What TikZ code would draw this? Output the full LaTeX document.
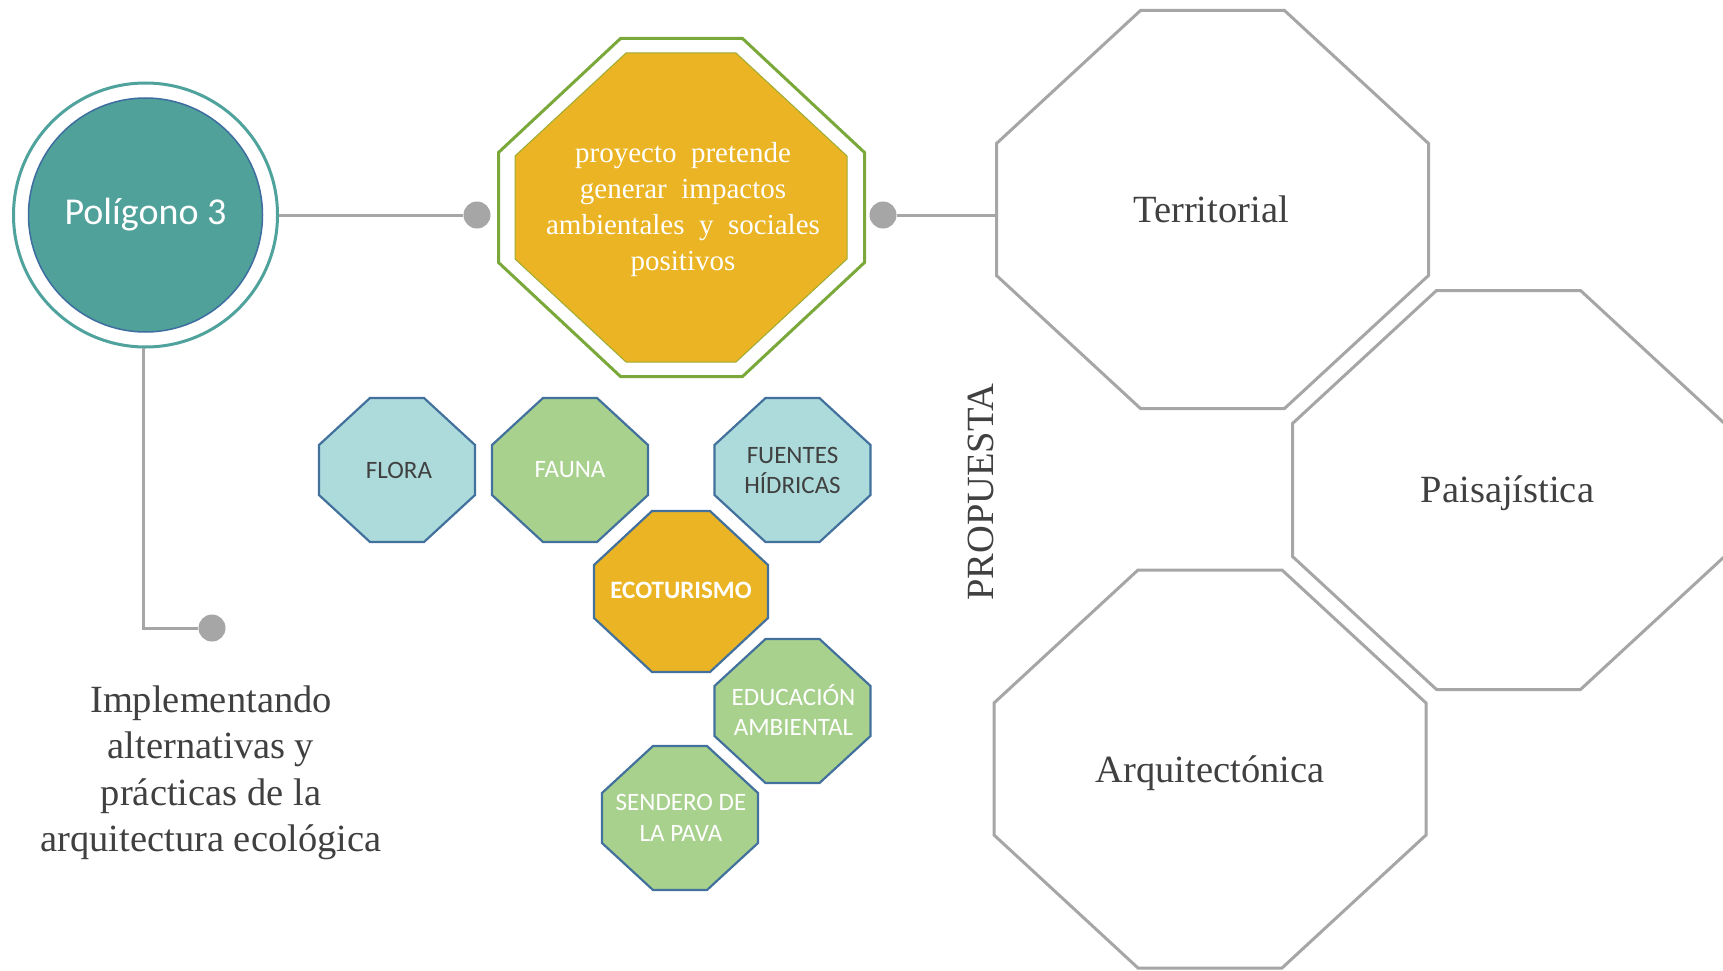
\documentclass[tikz,border=0pt]{standalone}
\usepackage{fontspec}
\setmainfont{Liberation Serif}
\newfontfamily\calfont{Carlito}
\definecolor{lgray}{HTML}{A6A6A6}
\definecolor{dgray}{HTML}{404040}
\definecolor{tealfill}{HTML}{50A19A}
\definecolor{tealring}{HTML}{4FA39C}
\definecolor{innerblue}{HTML}{3E6DA0}
\definecolor{gold}{HTML}{EBB424}
\definecolor{leaf}{HTML}{7AA83A}
\definecolor{octblue}{HTML}{41719C}
\definecolor{lblue}{HTML}{ADDBDB}
\definecolor{lgreen}{HTML}{A9D18E}
% cx cy w h ix iy style
\newcommand{\octa}[7]{%
  \path[#7] ({#1-#3/2+#5},{#2-#4/2}) -- ({#1+#3/2-#5},{#2-#4/2})
    -- ({#1+#3/2},{#2-#4/2+#6}) -- ({#1+#3/2},{#2+#4/2-#6})
    -- ({#1+#3/2-#5},{#2+#4/2}) -- ({#1-#3/2+#5},{#2+#4/2})
    -- ({#1-#3/2},{#2+#4/2-#6}) -- ({#1-#3/2},{#2-#4/2+#6}) -- cycle;}
\begin{document}
\begin{tikzpicture}[x=1pt,y=-1pt,
  gline/.style={draw=lgray, line width=3pt},
  dot/.style={circle, fill=lgray, minimum size=27pt, inner sep=0pt},
  smoct/.style={draw=octblue, line width=2.2pt, line join=miter},
  bigoct/.style={draw=lgray, line width=3pt, fill=white, line join=miter},
  smtxt/.style={font=\calfont\fontsize{25}{30.5}\selectfont, align=center, inner sep=0pt},
  bigtxt/.style={font=\fontsize{38.5}{46}\selectfont, text=dgray, inner sep=0pt},
  box/.style={draw=none, inner sep=0pt, rectangle}
]
\fill[white] (0,0) rectangle (1723,971);
\useasboundingbox (0,0) rectangle (1723,971);

% --- big octagons (right) ---
\octa{1212.5}{209.5}{432}{398}{144}{133}{bigoct}
\octa{1508.5}{490}{432}{399}{144}{133}{bigoct}
\octa{1210}{769}{432}{398}{144}{133}{bigoct}
\node[box, minimum width=432pt, minimum height=398pt] (terr) at (1212.5,209.5) {};
\node[box, minimum width=432pt, minimum height=399pt] (pais) at (1508.5,490) {};
\node[box, minimum width=432pt, minimum height=398pt] (arq) at (1210,769) {};
\node[bigtxt, anchor=base] (terrt) at (1211,222) {Territorial};
\node[bigtxt, anchor=base] (paist) at (1507.5,502) {Paisajística};
\node[bigtxt, anchor=base] (arqt) at (1210,782) {Arquitectónica};
\node[bigtxt, rotate=90, anchor=base] (prop) at (993,492) {PROPUESTA};

% --- central gold octagon ---
\octa{681.5}{207.5}{366}{338}{122}{114}{draw=leaf, line width=3pt, fill=white, line join=miter}
\octa{681}{207.5}{332}{309}{111}{103}{fill=gold, draw=leaf!70!gold, line width=1pt}
\node[box, minimum width=366pt, minimum height=338pt] (proy) at (681.5,207.5) {};
\node[inner sep=0pt, align=center, text=white,
      font=\fontsize{29}{36}\selectfont] (proyt) at (683,210)
      {proyecto\ \ pretende\\generar\ \ impactos\\ambientales\ \ y\ \ sociales\\positivos};

% --- circle ---
\node[circle, draw=tealring, line width=3pt, minimum size=264pt, inner sep=0pt] (ring) at (145.5,215) {};
\node[circle, draw=innerblue, line width=1.5pt, fill=tealfill, minimum size=234pt, inner sep=0pt,
      text=white, font=\calfont\fontsize{38}{45}\selectfont] (poly) at (145.5,215) {Polígono 3};

% --- connectors and dots ---
\node[dot] (d1) at (477,215) {};
\node[dot] (d2) at (883,215) {};
\node[dot] (d3) at (212,628) {};
\coordinate (vtop) at (143,348);
\draw[gline] (ring.east) -- (d1);
\draw[gline] (d2) -- (d2 -| terr.west);
\draw[gline] (vtop) |- (d3);

% --- small octagons ---
\octa{397}{470}{156}{144}{51}{47}{smoct, fill=lblue}
\octa{570}{470}{156}{144}{51}{47}{smoct, fill=lgreen}
\octa{792.5}{470}{156}{144}{51}{47}{smoct, fill=lblue}
\octa{681}{591.5}{174}{161}{58}{54}{smoct, fill=gold}
\octa{792.5}{711}{156}{144}{51}{47}{smoct, fill=lgreen}
\octa{680}{818}{156}{144}{51}{47}{smoct, fill=lgreen}
\node[smtxt, text=dgray] (flora) at (399,470) {FLORA};
\node[smtxt, text=white] (fauna) at (570,470) {FAUNA};
\node[smtxt, text=dgray] (fuentes) at (792.5,470.5) {FUENTES\\HÍDRICAS};
\node[smtxt, text=white, font=\calfont\bfseries\fontsize{25}{30.5}\selectfont] (eco) at (681,590) {ECOTURISMO};
\node[smtxt, text=white] (edu) at (793.5,710) {EDUCACIÓN\\AMBIENTAL};
\node[smtxt, text=white] (send) at (681,818) {SENDERO DE\\LA PAVA};

% --- bottom-left text ---
\node[inner sep=0pt, align=center, text=dgray, font=\fontsize{38.5}{46.5}\selectfont] (impl) at (211,773)
  {Implementando\\alternativas y\\prácticas de la\\arquitectura ecológica};
\end{tikzpicture}
\end{document}
